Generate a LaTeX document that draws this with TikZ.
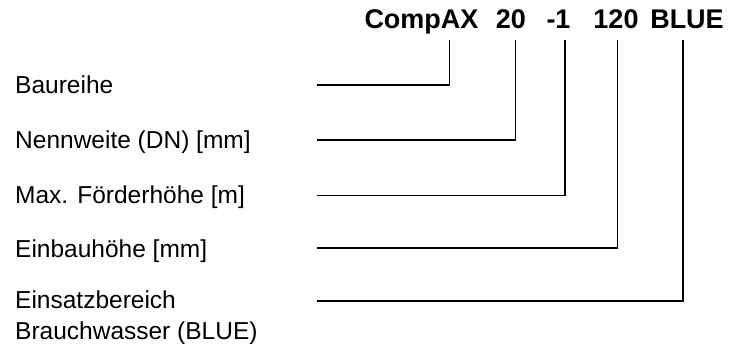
\documentclass[tikz,border=0pt]{standalone}
\usepackage{fontspec}
\setmainfont{Liberation Sans}
\begin{document}
\begin{tikzpicture}[x=1pt,y=-1pt,
  lbl/.style={anchor=base west, inner sep=0pt, font=\fontsize{24.5}{31}\selectfont, align=left},
  code/.style={anchor=base, inner sep=0pt, font=\fontsize{27}{30}\selectfont\bfseries},
  conn/.style={draw=black, line width=1.4pt}]
\useasboundingbox (0,0) rectangle (729,351);
% code parts
\node[code] (c1) at (421.5,28) {CompAX};
\node[code] (c2) at (511,28) {20};
\node[code] (c3) at (558.5,28) {-1};
\node[code] (c4) at (616,28) {120};
\node[code] (c5) at (687,28) {BLUE};
% labels
\node[lbl] (l1) at (15,93.7) {Baureihe};
\node[lbl] (l2) at (15,148.7) {Nennweite (DN) [mm]};
\node[lbl] (l3) at (15,203.7) {Max. Förderhöhe [m]};
\node[lbl] (l4) at (15,257) {Einbauhöhe [mm]};
\node[lbl] (l5) at (15,339.5) {Einsatzbereich\\Brauchwasser (BLUE)};
% connector ends
\coordinate (s1) at (317,85);
\coordinate (s2) at (317,140);
\coordinate (s3) at (317,195.5);
\coordinate (s4) at (317,248);
\coordinate (s5) at (317,301);
\coordinate (t1) at (449.7,40);
\coordinate (t2) at (515.5,40);
\coordinate (t3) at (565,40);
\coordinate (t4) at (617.5,40);
\coordinate (t5) at (683,40);
\draw[conn] (s1) -| (t1);
\draw[conn] (s2) -| (t2);
\draw[conn] (s3) -| (t3);
\draw[conn] (s4) -| (t4);
\draw[conn] (s5) -| (t5);
\end{tikzpicture}
\end{document}
